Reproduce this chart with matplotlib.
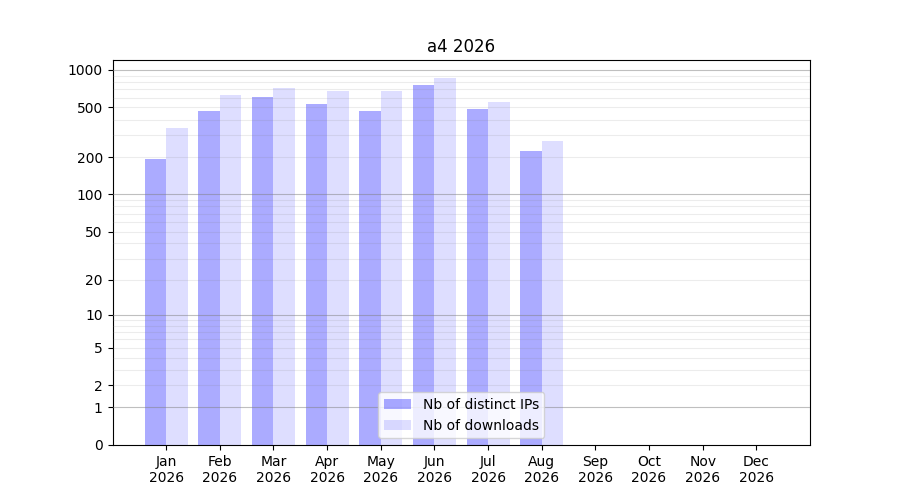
"""
monthly downloads bar chart, log(1+x) axis
"""

import numpy as np
import matplotlib
matplotlib.use('Agg')
import matplotlib.pyplot as plt
from matplotlib.ticker import FixedLocator, FixedFormatter

months = ['Jan\n2026', 'Feb\n2026', 'Mar\n2026', 'Apr\n2026', 'May\n2026', 'Jun\n2026',
          'Jul\n2026', 'Aug\n2026', 'Sep\n2026', 'Oct\n2026', 'Nov\n2026', 'Dec\n2026']
distinct_ips = [194, 469, 608, 534, 469, 758, 487, 224]
downloads = [343, 630, 717, 678, 678, 862, 554, 269]

ytick_values = [0, 1, 2, 5, 10, 20, 50, 100, 200, 500, 1000]


def forward(y):
    return np.log10(1 + np.clip(y, 0, None))


def inverse(y):
    return 10 ** y - 1


fig, ax = plt.subplots(figsize=(9, 5), dpi=100)

x = np.arange(len(distinct_ips))
ax.bar(x - 0.2, distinct_ips, width=0.4, color='b', alpha=0.33, label='Nb of distinct IPs')
ax.bar(x + 0.2, downloads, width=0.4, color='b', alpha=0.13, label='Nb of downloads')

ax.set_yscale('function', functions=(forward, inverse))
ax.set_ylim(0, 1200)
ax.set_xlim(-1, 12)

ax.set_xticks(range(len(months)))
ax.set_xticklabels(months)

ax.yaxis.set_major_locator(FixedLocator(ytick_values))
ax.yaxis.set_major_formatter(FixedFormatter([str(v) for v in ytick_values]))

# grid: decades darker, the rest lighter
for v in [1, 10, 100, 1000]:
    ax.axhline(v, color='gray', alpha=0.5, lw=0.8, zorder=3)
minor = [m * d for d in [1, 10, 100] for m in range(2, 10)]
for v in minor:
    ax.axhline(v, color='gray', alpha=0.15, lw=0.8, zorder=3)

ax.set_title('a4 2026')
ax.legend(loc='lower center')

plt.savefig('out.png')
